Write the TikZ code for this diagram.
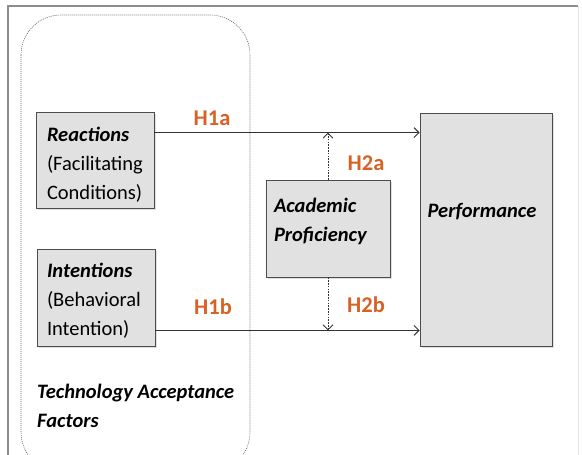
\documentclass[tikz,border=0pt]{standalone}
\usepackage{fontspec}
\setmainfont{Carlito}
\usetikzlibrary{arrows.meta,shadows,calc}
\definecolor{hlab}{RGB}{214,98,38}
\definecolor{boxfill}{RGB}{225,225,225}
\newcommand{\topgap}[1]{\rule{0pt}{#1}}
\newcommand{\botgap}[1]{\rule[-#1]{0pt}{#1}}
\begin{document}
\begin{tikzpicture}[x=1pt,y=-1pt,
  every node/.style={font=\fontsize{20.5}{29}\selectfont},
  factor/.style={draw=black!70,line width=0.8pt,fill=boxfill,rectangle,
    drop shadow={opacity=0.25,shadow xshift=1.5pt,shadow yshift=-1.5pt},
    align=left,inner ysep=0pt},
  hyp/.style={text=hlab,font=\fontsize{22.5}{26}\selectfont\bfseries},
  arr/.style={line width=0.8pt,draw=black!80,-{Straight Barb[length=5pt,width=10pt,line width=0.9pt]}},
  darr/.style={line width=0.8pt,draw=black!80,dash pattern=on 1.6pt off 1.2pt,
    -{Straight Barb[length=5pt,width=10pt,line width=0.9pt]}}]
\useasboundingbox (0,0) rectangle (582,455);
% outer frame
\draw[black!45,line width=2pt] (8,455) -- (8,6) -- (578,6);
\draw[black!10,line width=1pt] (578,6) -- (578,455);
% group boundary
\draw[black!60,line width=0.6pt,dash pattern=on 1pt off 1pt,rounded corners=40pt]
  (21,15) rectangle (250,472);
% boxes
\node[factor,minimum width=118pt,minimum height=96pt,text width=96pt,inner xsep=11pt]
  (react) at (95,160) {\topgap{24pt}\textbf{\textit{Reactions}}\\(Facilitating\\Conditions)};
\node[factor,minimum width=118pt,minimum height=97pt,text width=98pt,inner xsep=10pt]
  (intent) at (96,297.5) {\topgap{21pt}\textbf{\textit{Intentions}}\\(Behavioral\\Intention)};
\node[factor,minimum width=124pt,minimum height=97pt,text width=108pt,inner xsep=8pt]
  (acad) at (328,228.5) {\textbf{\textit{Academic}}\\\textbf{\textit{Proficiency}}\botgap{17pt}};
\node[factor,minimum width=132pt,minimum height=233pt]
  (perf) at (486,229.5) {};
\node[inner sep=0pt] (perftext) at (482,212) {\textbf{\textit{Performance}}};
% group label
\node[anchor=north west,align=left,inner sep=0pt] (tam) at (37,384)
  {\textbf{\textit{Technology Acceptance}}\\\textbf{\textit{Factors}}};
% connectors
\draw[arr] (react.north east) ++(0,21) coordinate (a1) -- (a1 -| perf.west);
\draw[arr] (intent.south east) ++(0,-16) coordinate (b1) -- (b1 -| perf.west);
\draw[darr] (acad.north) -- (acad.north |- a1);
\draw[darr] (acad.south) -- (acad.south |- b1);
% hypothesis labels
\node[hyp] (h1a) at (212,118) {H1a};
\node[hyp] (h1b) at (213,307) {H1b};
\node[hyp] (h2a) at (366,163) {H2a};
\node[hyp] (h2b) at (366,305) {H2b};
\end{tikzpicture}
\end{document}
